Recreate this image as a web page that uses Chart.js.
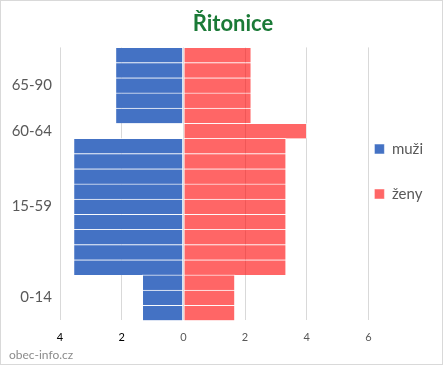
<!DOCTYPE html>
<html>
<head>
<meta charset="utf-8">
<script src="https://cdn.jsdelivr.net/npm/chart.js@4.4.0/dist/chart.umd.min.js"></script>
<style>
  body { margin: 0; background: #fff; }
  #wrap { width: 443px; height: 365px; box-sizing: border-box; border: 1px solid #d9d9d9; }
</style>
</head>
<body>
<div id="wrap"><canvas id="pyramid"></canvas></div>
<script>
// one bar row per entry, top to bottom; the age label sits on the middle row of its group
const rowLabels = ["", "", "65-90", "", "", "60-64", "", "", "", "", "15-59", "", "", "", "", "", "0-14", ""];
const muzi = [-2.2, -2.2, -2.2, -2.2, -2.2, 0,
  -3.56, -3.56, -3.56, -3.56, -3.56, -3.56, -3.56, -3.56, -3.56,
  -1.33, -1.33, -1.33];
const zeny = [2.2, 2.2, 2.2, 2.2, 2.2, 4,
  3.33, 3.33, 3.33, 3.33, 3.33, 3.33, 3.33, 3.33, 3.33,
  1.67, 1.67, 1.67];
const xMin = -4;
const xMax = 6;
const xStep = 2;

// legend items need wide vertical spacing but a small gap to the plot
const legendShift = {
  id: "legendShift",
  afterLayout(chart) {
    chart.legend.left -= 24;
    chart.legend.top -= 11;
    chart.legend.bottom -= 11;
  }
};

const font = "Lato, 'Open Sans', sans-serif";

new Chart(document.getElementById("pyramid"), {
  type: "bar",
  data: {
    labels: rowLabels,
    datasets: [
      {
        label: "muži",
        data: muzi,
        backgroundColor: "#4472c4",
        borderColor: "rgba(255,255,255,0.7)",
        borderWidth: { top: 1, bottom: 0, left: 1, right: 1 },
        borderSkipped: false,
      },
      {
        label: "ženy",
        data: zeny,
        backgroundColor: "rgba(255,0,0,0.6)",
        borderColor: "rgba(255,255,255,0.6)",
        borderWidth: { top: 1, bottom: 0, left: 1, right: 1 },
        borderSkipped: false,
      },
    ],
  },
  options: {
    indexAxis: "y",
    responsive: true,
    maintainAspectRatio: false,
    animation: false,
    datasets: { bar: { barPercentage: 1, categoryPercentage: 1 } },
    layout: { padding: { left: 8, right: -15, top: 0, bottom: 0 } },
    plugins: {
      tooltip: { enabled: false },
      title: {
        display: true,
        text: "Řitonice",
        color: "#1b7a37",
        font: { family: font, size: 22, weight: "bold" },
        padding: { top: 10, bottom: 10 },
      },
      subtitle: {
        display: true,
        position: "bottom",
        align: "start",
        text: "obec-info.cz",
        color: "#8c8c8c",
        font: { family: font, size: 12 },
        padding: { top: 2, bottom: 2 },
      },
      legend: {
        position: "right",
        labels: {
          boxWidth: 10,
          boxHeight: 10,
          padding: 30,
          color: "#595959",
          font: { family: font, size: 15 },
        },
      },
    },
    scales: {
      x: {
        stacked: true,
        min: xMin,
        max: xMax,
        ticks: {
          stepSize: xStep,
          padding: 2,
          callback: (v) => Math.abs(v),
          color: (ctx) => (ctx.tick.value < 0 ? "#000" : "#595959"),
          font: { family: font, size: 11 },
        },
        grid: { color: "#d9d9d9", tickLength: 8, tickColor: "transparent" },
        border: { display: false },
      },
      y: {
        stacked: true,
        afterFit: (scale) => { scale.width = 51; },
        grid: { display: false, drawTicks: false },
        border: { display: false },
        ticks: {
          autoSkip: false,
          padding: 8,
          color: "#595959",
          font: { family: font, size: 15 },
        },
      },
    },
  },
  plugins: [legendShift],
});
</script>
</body>
</html>
